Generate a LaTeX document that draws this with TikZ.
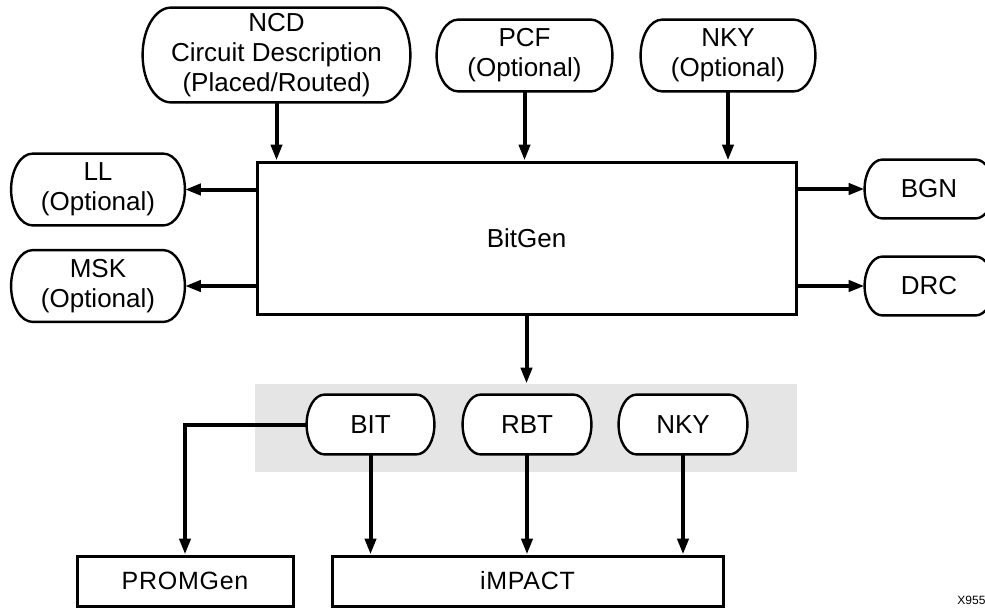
\documentclass[tikz,border=0pt]{standalone}
\usepackage{fontspec}
\setmainfont{Liberation Sans}
\usetikzlibrary{arrows.meta,calc,backgrounds}
\newcommand\pillout[1]{%
  \path[draw=black, fill=white, line width=1.2pt]
    let \p1=(#1.north west), \p2=(#1.south east),
        \n1={(\y1-\y2)/2}, \n2={0.6*\n1} in
    (\x1+\n2,\y1) -- (\x2-\n2,\y1)
    arc[start angle=90, end angle=-90, x radius=\n2, y radius=\n1]
    -- (\x1+\n2,\y2)
    arc[start angle=270, end angle=90, x radius=\n2, y radius=\n1]
    -- cycle;}
\begin{document}
\begin{tikzpicture}[x=0.5pt,y=-0.5pt,
  font=\fontsize{13}{15}\selectfont,
  pill/.style={rectangle, align=center, inner sep=0pt},
  boxnode/.style={rectangle, draw, line width=1.5pt, fill=white, align=center, inner sep=0pt},
  arr/.style={line width=2pt, -{Triangle[length=8pt,width=5.5pt]}},
  spaced/.style={font=\fontsize{12.5}{15}\selectfont\addfontfeatures{LetterSpace=3}},
]
\useasboundingbox (0,0) rectangle (985,607);
% top inputs
\node[pill, minimum width=133.5pt, minimum height=47pt] (ncd) at (276.5,55) {NCD\\Circuit Description\\(Placed/Routed)};
\node[pill, minimum width=87.5pt, minimum height=35.5pt] (pcf) at (524.5,55.5) {PCF\\(Optional)};
\node[pill, minimum width=87pt, minimum height=35.5pt] (nkyin) at (728,55.5) {NKY\\(Optional)};
% main box
\node[boxnode, minimum width=269.5pt, minimum height=76pt] (bitgen) at (526.5,238) {BitGen};
% side outputs
\node[pill, minimum width=86.5pt, minimum height=35.5pt] (ll) at (98,189.5) {LL\\(Optional)};
\node[pill, minimum width=86.5pt, minimum height=35.5pt] (msk) at (98,286) {MSK\\(Optional)};
\node[pill, minimum width=64pt, minimum height=29pt] (bgn) at (929,189) {BGN};
\node[pill, minimum width=64pt, minimum height=29pt] (drc) at (929,286) {DRC};
% band outputs
\node[pill, minimum width=63.5pt, minimum height=29.5pt] (bit) at (370.5,424.5) {BIT};
\node[pill, minimum width=64pt, minimum height=29.5pt] (rbt) at (527,424.5) {RBT};
\node[pill, minimum width=64pt, minimum height=29.5pt] (nkyout) at (683,424.5) {NKY};
% tools
\node[boxnode, spaced, minimum width=108pt, minimum height=25pt] (promgen) at (185,581) {PROMGen};
\node[boxnode, spaced, minimum width=195.5pt, minimum height=25pt] (impact) at (527.5,581) {iMPACT};
\node[anchor=base west, font=\fontsize{6}{7}\selectfont, inner sep=0pt] (xlab) at (957,604) {X955};
% grey band and pill outlines behind the texts
\begin{pgfonlayer}{background}
\node[fill=black!10, minimum width=271pt, minimum height=44pt, inner sep=0pt] (band) at (526,428) {};
\pillout{ncd}\pillout{pcf}\pillout{nkyin}
\pillout{ll}\pillout{msk}\pillout{bgn}\pillout{drc}
\pillout{bit}\pillout{rbt}\pillout{nkyout}
\end{pgfonlayer}
% connectors
\draw[arr] (ncd.south) -- (ncd.south |- bitgen.north);
\draw[arr] (pcf.south) -- (pcf.south |- bitgen.north);
\draw[arr] (nkyin.south) -- (nkyin.south |- bitgen.north);
\draw[arr] (bitgen.west |- ll.east) -- (ll.east);
\draw[arr] (bitgen.west |- msk.east) -- (msk.east);
\draw[arr] (bitgen.east |- bgn.west) -- (bgn.west);
\draw[arr] (bitgen.east |- drc.west) -- (drc.west);
\draw[arr] (bitgen.south) -- (bitgen.south |- band.north);
\draw[arr] (bit.west) -| (promgen.north);
\draw[arr] (bit.south) -- (bit.south |- impact.north);
\draw[arr] (rbt.south) -- (rbt.south |- impact.north);
\draw[arr] (nkyout.south) -- (nkyout.south |- impact.north);
\end{tikzpicture}
\end{document}
